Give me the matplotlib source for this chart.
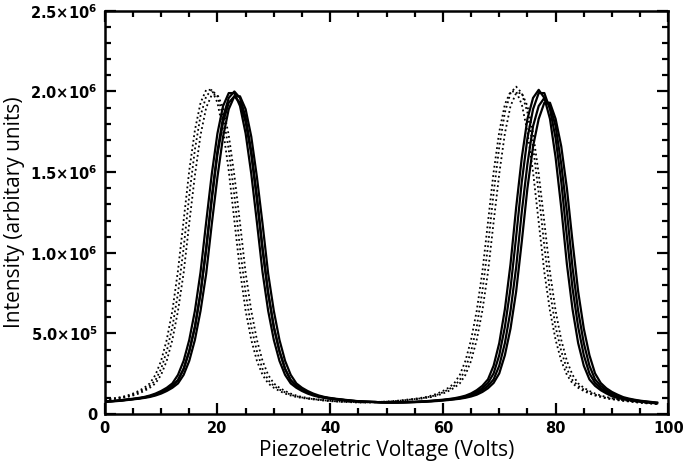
import numpy as np
import matplotlib
matplotlib.use('Agg')
import matplotlib.pyplot as plt
from matplotlib.ticker import MultipleLocator, FixedLocator

# piezo sweep, 1 V steps (0..98 V)
voltage = np.arange(0, 99, 1.0)

# intensities in units of 1e6
# solid traces
s1 = [0.078, 0.080, 0.083, 0.087, 0.091, 0.095, 0.100, 0.106, 0.115, 0.127,
      0.143, 0.163, 0.19, 0.243, 0.33, 0.46, 0.64, 0.88, 1.19, 1.49,
      1.74, 1.91, 1.99, 1.99, 1.91, 1.74, 1.49, 1.19, 0.88, 0.64,
      0.46, 0.33, 0.243, 0.19, 0.163, 0.143, 0.127, 0.115, 0.106, 0.100,
      0.095, 0.091, 0.087, 0.083, 0.080, 0.078, 0.076, 0.075, 0.073, 0.072,
      0.072, 0.072, 0.073, 0.074, 0.075, 0.076, 0.078, 0.080, 0.083, 0.086,
      0.089, 0.093, 0.098, 0.105, 0.114, 0.128, 0.148, 0.175, 0.215, 0.30,
      0.44, 0.65, 0.93, 1.28, 1.59, 1.83, 1.96, 2.01, 1.96, 1.83,
      1.59, 1.28, 0.93, 0.65, 0.44, 0.30, 0.215, 0.175, 0.148, 0.128,
      0.110, 0.100, 0.092, 0.086, 0.081, 0.077, 0.073, 0.070, 0.067]
s2 = [0.077, 0.079, 0.082, 0.085, 0.089, 0.093, 0.097, 0.103, 0.110, 0.120,
      0.135, 0.152, 0.175, 0.21, 0.28, 0.39, 0.54, 0.75, 1.03, 1.35,
      1.63, 1.84, 1.96, 2.00, 1.96, 1.84, 1.63, 1.35, 1.03, 0.75,
      0.54, 0.39, 0.28, 0.21, 0.175, 0.152, 0.135, 0.120, 0.110, 0.103,
      0.097, 0.093, 0.089, 0.085, 0.082, 0.079, 0.077, 0.076, 0.075, 0.073,
      0.072, 0.072, 0.072, 0.073, 0.074, 0.075, 0.077, 0.079, 0.081, 0.084,
      0.087, 0.091, 0.095, 0.101, 0.109, 0.120, 0.137, 0.160, 0.193, 0.252,
      0.365, 0.54, 0.78, 1.10, 1.44, 1.71, 1.89, 1.99, 1.99, 1.89,
      1.71, 1.44, 1.10, 0.78, 0.54, 0.365, 0.252, 0.193, 0.160, 0.137,
      0.120, 0.105, 0.096, 0.089, 0.083, 0.079, 0.075, 0.071, 0.068]
s3 = [0.076, 0.078, 0.080, 0.083, 0.087, 0.091, 0.095, 0.100, 0.106, 0.115,
      0.127, 0.143, 0.163, 0.19, 0.243, 0.33, 0.46, 0.64, 0.87, 1.18,
      1.47, 1.72, 1.89, 1.97, 1.97, 1.89, 1.72, 1.47, 1.18, 0.87,
      0.64, 0.46, 0.33, 0.243, 0.19, 0.163, 0.143, 0.127, 0.115, 0.106,
      0.100, 0.095, 0.091, 0.087, 0.083, 0.080, 0.078, 0.076, 0.075, 0.073,
      0.072, 0.072, 0.072, 0.073, 0.074, 0.075, 0.076, 0.078, 0.080, 0.083,
      0.086, 0.089, 0.093, 0.098, 0.105, 0.114, 0.128, 0.148, 0.175, 0.215,
      0.30, 0.44, 0.64, 0.91, 1.255, 1.55, 1.785, 1.91, 1.96, 1.91,
      1.785, 1.55, 1.255, 0.91, 0.64, 0.44, 0.30, 0.215, 0.175, 0.148,
      0.128, 0.110, 0.100, 0.092, 0.086, 0.081, 0.077, 0.073, 0.070]
s4 = [0.077, 0.079, 0.082, 0.085, 0.089, 0.093, 0.097, 0.103, 0.110, 0.120,
      0.135, 0.152, 0.175, 0.21, 0.28, 0.39, 0.54, 0.75, 1.02, 1.33,
      1.61, 1.81, 1.93, 1.97, 1.93, 1.81, 1.61, 1.33, 1.02, 0.75,
      0.54, 0.39, 0.28, 0.21, 0.175, 0.152, 0.135, 0.120, 0.110, 0.103,
      0.097, 0.093, 0.089, 0.085, 0.082, 0.079, 0.077, 0.076, 0.075, 0.073,
      0.072, 0.072, 0.072, 0.072, 0.073, 0.074, 0.075, 0.077, 0.079, 0.081,
      0.084, 0.087, 0.091, 0.095, 0.101, 0.109, 0.120, 0.137, 0.160, 0.193,
      0.252, 0.365, 0.53, 0.76, 1.07, 1.40, 1.66, 1.83, 1.93, 1.93,
      1.83, 1.66, 1.40, 1.07, 0.76, 0.53, 0.365, 0.252, 0.193, 0.160,
      0.137, 0.120, 0.105, 0.096, 0.089, 0.083, 0.079, 0.075, 0.071]

# dotted traces
d1 = [0.091, 0.095, 0.100, 0.106, 0.115, 0.127, 0.143, 0.163, 0.19, 0.243,
      0.33, 0.46, 0.64, 0.89, 1.20, 1.51, 1.76, 1.93, 2.01, 2.01,
      1.93, 1.76, 1.51, 1.20, 0.89, 0.64, 0.46, 0.33, 0.243, 0.19,
      0.163, 0.143, 0.127, 0.115, 0.106, 0.100, 0.095, 0.091, 0.087, 0.083,
      0.080, 0.078, 0.076, 0.075, 0.073, 0.072, 0.072, 0.073, 0.075, 0.076,
      0.078, 0.080, 0.083, 0.087, 0.091, 0.095, 0.100, 0.106, 0.115, 0.127,
      0.143, 0.163, 0.19, 0.243, 0.33, 0.46, 0.64, 0.88, 1.19, 1.50,
      1.75, 1.92, 2.00, 2.00, 1.92, 1.75, 1.50, 1.19, 0.88, 0.64,
      0.46, 0.33, 0.243, 0.19, 0.163, 0.143, 0.127, 0.115, 0.106, 0.097,
      0.092, 0.086, 0.082, 0.078, 0.074, 0.070, 0.067, 0.065, 0.062]
d2 = [0.089, 0.093, 0.097, 0.103, 0.110, 0.120, 0.135, 0.152, 0.175, 0.21,
      0.28, 0.39, 0.54, 0.75, 1.03, 1.355, 1.64, 1.85, 1.97, 2.01,
      1.97, 1.85, 1.64, 1.355, 1.03, 0.75, 0.54, 0.39, 0.28, 0.21,
      0.175, 0.152, 0.135, 0.120, 0.110, 0.103, 0.097, 0.093, 0.089, 0.085,
      0.082, 0.079, 0.077, 0.076, 0.075, 0.073, 0.072, 0.073, 0.075, 0.076,
      0.077, 0.079, 0.082, 0.085, 0.089, 0.093, 0.097, 0.103, 0.110, 0.120,
      0.135, 0.152, 0.175, 0.21, 0.28, 0.39, 0.54, 0.76, 1.04, 1.37,
      1.655, 1.87, 1.99, 2.03, 1.99, 1.87, 1.655, 1.37, 1.04, 0.76,
      0.54, 0.39, 0.28, 0.21, 0.175, 0.152, 0.135, 0.120, 0.110, 0.100,
      0.095, 0.089, 0.084, 0.080, 0.076, 0.072, 0.069, 0.066, 0.063]
d3 = [0.087, 0.091, 0.095, 0.100, 0.106, 0.115, 0.127, 0.143, 0.163, 0.19,
      0.243, 0.33, 0.46, 0.64, 0.875, 1.185, 1.48, 1.73, 1.90, 1.98,
      1.98, 1.90, 1.73, 1.48, 1.185, 0.875, 0.64, 0.46, 0.33, 0.243,
      0.19, 0.163, 0.143, 0.127, 0.115, 0.106, 0.100, 0.095, 0.091, 0.087,
      0.083, 0.080, 0.078, 0.076, 0.075, 0.073, 0.072, 0.072, 0.073, 0.075,
      0.076, 0.078, 0.080, 0.083, 0.087, 0.091, 0.095, 0.100, 0.106, 0.115,
      0.127, 0.143, 0.163, 0.19, 0.243, 0.33, 0.46, 0.64, 0.88, 1.19,
      1.49, 1.74, 1.91, 1.99, 1.99, 1.91, 1.74, 1.49, 1.19, 0.88,
      0.64, 0.46, 0.33, 0.243, 0.19, 0.163, 0.143, 0.127, 0.115, 0.106,
      0.097, 0.092, 0.086, 0.082, 0.078, 0.074, 0.070, 0.067, 0.065]

solid = [s1, s2, s3, s4]
dotted = [d1, d2, d3]

ytick_vals = [0, 0.5e6, 1.0e6, 1.5e6, 2.0e6, 2.5e6]
ytick_text = ['0', r'$\mathbf{5.0{\times}10^5}$', r'$\mathbf{1.0{\times}10^6}$',
              r'$\mathbf{1.5{\times}10^6}$', r'$\mathbf{2.0{\times}10^6}$',
              r'$\mathbf{2.5{\times}10^6}$']

fig = plt.figure(figsize=(6.89, 4.70), dpi=100)
ax = fig.add_axes([0.152, 0.119, 0.818, 0.858])

for y in solid:
    ax.plot(voltage, np.array(y) * 1e6, color='black', lw=1.6, ls='-')
for y in dotted:
    ax.plot(voltage, np.array(y) * 1e6, color='black', lw=1.3, ls=(0, (1, 1.6)))

ax.set_xlim(0, 100)
ax.set_ylim(0, 2.5e6)
ax.xaxis.set_major_locator(MultipleLocator(20))
ax.xaxis.set_minor_locator(MultipleLocator(5))
ax.yaxis.set_major_locator(FixedLocator(ytick_vals))
ax.yaxis.set_minor_locator(MultipleLocator(0.1e6))
ax.set_yticklabels(ytick_text)

ax.tick_params(which='both', direction='in', top=True, right=True, width=1.6,
               labelsize=10.5, pad=5)
ax.tick_params(which='major', length=8)
ax.tick_params(which='minor', length=4)
for lab in ax.get_xticklabels() + ax.get_yticklabels():
    lab.set_fontweight('bold')
for sp in ax.spines.values():
    sp.set_linewidth(1.8)

ax.set_xlabel('Piezoeletric Voltage (Volts)', fontsize=15, family='Open Sans', labelpad=3)
ax.set_ylabel('Intensity (arbitary units)', fontsize=15, family='Open Sans', labelpad=4)

plt.savefig('out.png', dpi=100)
